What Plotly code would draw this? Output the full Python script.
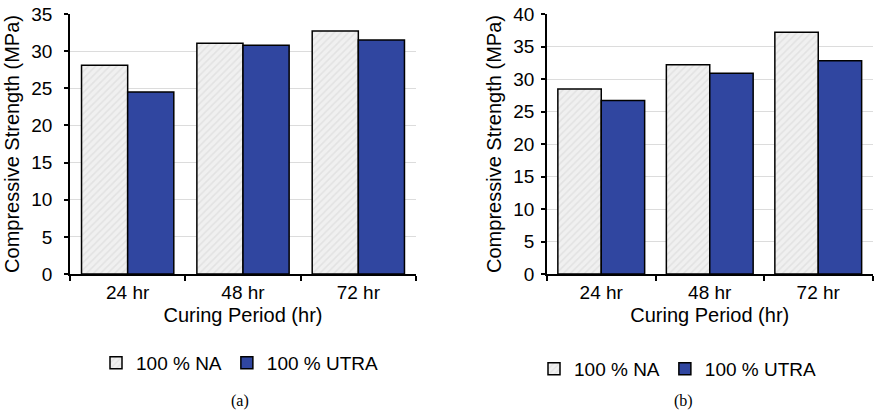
import plotly.graph_objects as go

categories = ["24 hr", "48 hr", "72 hr"]
na_a = [28.1, 31.05, 32.7]
utra_a = [24.5, 30.8, 31.5]
na_b = [28.45, 32.2, 37.2]
utra_b = [26.7, 30.9, 32.8]
series_names = ["100 % NA", "100 % UTRA"]
y_title = "Compressive Strength (MPa)"
x_title = "Curing Period (hr)"
captions = ["(a)", "(b)"]

FONT = "Liberation Sans, Arial, sans-serif"
BLUE = "#3046a0"
na_marker = dict(
    color="#f0f0f0",
    pattern=dict(shape="/", bgcolor="#f0f0f0", fgcolor="#d4d4d4", size=5, solidity=0.3),
    line=dict(color="black", width=1.5),
)
utra_marker = dict(color=BLUE, line=dict(color="black", width=1.5))

fig = go.Figure()
for na, utra, xa, ya, lg in [(na_a, utra_a, "x", "y", "legend"), (na_b, utra_b, "x2", "y2", "legend2")]:
    fig.add_trace(go.Bar(x=categories, y=na, name=series_names[0], marker=na_marker,
                         xaxis=xa, yaxis=ya, legend=lg))
    fig.add_trace(go.Bar(x=categories, y=utra, name=series_names[1], marker=utra_marker,
                         xaxis=xa, yaxis=ya, legend=lg))

def xaxis(domain, anchor):
    return dict(domain=domain, anchor=anchor, showline=True, linecolor="black", linewidth=1.5,
                ticks="outside", tickson="boundaries", ticklen=5, tickcolor="black", tickwidth=1.5,
                tickfont=dict(size=19, color="black"), showgrid=False, automargin=False,
                title=dict(text=x_title, font=dict(size=20, color="black"), standoff=6))

def yaxis(domain, anchor, rng, standoff):
    return dict(domain=domain, anchor=anchor, range=rng, dtick=5, showline=True, linecolor="black",
                linewidth=1.5, ticks="outside", ticklen=4, tickcolor="black", tickwidth=1.5,
                tickfont=dict(size=19, color="black"), showgrid=True, gridcolor="#dcdcdc", gridwidth=1,
                zeroline=False, automargin=False, ticklabelstandoff=standoff,
                title=dict(text=y_title, font=dict(size=20, color="black"), standoff=6))

ydom = [1 - 274 / 415, 1 - 14 / 415]
legend_common = dict(orientation="h", xanchor="center", yanchor="middle", font=dict(size=19),
                     itemwidth=30, bgcolor="rgba(0,0,0,0)", tracegroupgap=0)
fig.update_layout(
    width=874, height=415, margin=dict(l=0, r=0, t=0, b=0),
    paper_bgcolor="white", plot_bgcolor="white",
    font=dict(family=FONT, color="black"),
    barmode="group", bargap=0.2, bargroupgap=0,
    xaxis=xaxis([70 / 874, 416 / 874], "y"),
    yaxis=yaxis(ydom, "x", [0, 35], 8),
    xaxis2=xaxis([547 / 874, 872.5 / 874], "y2"),
    yaxis2=yaxis(ydom, "x2", [0, 40], 3),
    legend=dict(legend_common, x=240 / 874, y=1 - 363 / 415),
    legend2=dict(legend_common, x=678 / 874, y=1 - 369 / 415),
    showlegend=True,
)
for txt, xc in zip(captions, [240, 683]):
    fig.add_annotation(text=txt, x=xc / 874, y=1 - 401 / 415, xref="paper", yref="paper",
                       showarrow=False, xanchor="center", yanchor="middle",
                       font=dict(family="Liberation Serif, Times New Roman, serif", size=16, color="black"))

fig.write_html("out.html")
